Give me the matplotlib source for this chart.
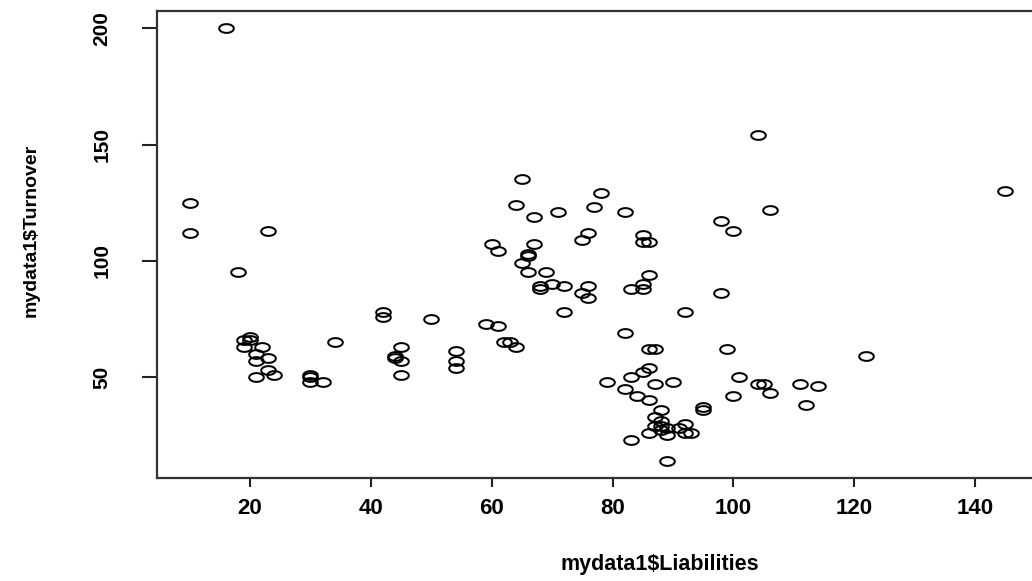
import matplotlib
matplotlib.use("Agg")
import matplotlib.pyplot as plt
from matplotlib import font_manager
from matplotlib.path import Path
import numpy as np

liabilities = [16, 10, 10, 23, 18,
               19, 20, 20, 19, 22, 21, 21, 23, 23, 24, 21,
               30, 30, 30, 32, 34, 42, 42, 50, 45, 44, 44, 45, 45,
               65, 64, 67, 71, 78, 77, 82, 98, 100, 76, 75, 85, 85, 86,
               60, 61, 67, 66, 66, 65, 66, 69, 68, 68, 70, 72, 76, 75, 76,
               86, 85, 85, 83, 98, 72, 92, 59, 61, 82,
               62, 63, 64, 54, 54, 54,
               86, 87, 99, 86, 85, 83, 79, 90, 87, 101, 100, 82, 84, 86, 95, 95, 88, 87, 88, 87, 88, 89, 92, 91, 92, 93, 86, 89, 88, 83, 89,
               104, 145, 106, 122, 104, 105, 106, 111, 114, 112]
turnover = [200, 125, 112, 113, 95,
            66, 67, 66, 63, 63, 60, 57, 58, 53, 51, 50,
            51, 50, 48, 48, 65, 78, 76, 75, 63, 59, 58, 57, 51,
            135, 124, 119, 121, 129, 123, 121, 117, 113, 112, 109, 111, 108, 108,
            107, 104, 107, 103, 102, 99, 95, 95, 89, 88, 90, 89, 89, 86, 84,
            94, 90, 88, 88, 86, 78, 78, 73, 72, 69,
            65, 65, 63, 61, 57, 54,
            62, 62, 62, 54, 52, 50, 48, 48, 47, 50, 42, 45, 42, 40, 37, 36, 36, 33, 31, 29, 29, 28, 30, 28, 26, 26, 26, 25, 27, 23, 14,
            154, 130, 122, 59, 47, 47, 43, 47, 46, 38]
x_ticks = [20, 40, 60, 80, 100, 120, 140]
y_ticks = [50, 100, 150, 200]
x_label = "mydata1$Liabilities"
y_label = "mydata1$Turnover"

plt.rcParams['font.family'] = ['Liberation Sans', 'DejaVu Sans']
names = {f.name for f in font_manager.fontManager.ttflist}
if "Liberation Sans Narrow" in names:
    vfam, vsize_lab, vsize_tick = ['Liberation Sans Narrow', 'DejaVu Sans'], 16, 17
else:
    vfam, vsize_lab, vsize_tick = ['Liberation Sans', 'DejaVu Sans'], 14, 15

W, H = 1032, 581
fig = plt.figure(figsize=(W / 100, H / 100), dpi=100)
left, right, top, bottom = 157, 1038, 11, 478
ax = fig.add_axes([left / W, (H - bottom) / H, (right - left) / W, (bottom - top) / H])

# elliptical open circle marker (image is horizontally stretched)
t = np.linspace(0, 2 * np.pi, 60)
ell = Path(np.column_stack([np.cos(t), 0.6 * np.sin(t)]), closed=True)

ax.plot(liabilities, turnover, linestyle='none', marker=ell, markersize=10.5,
        markerfacecolor='none', markeredgecolor='black', markeredgewidth=1.45)

xs, ys = np.array(liabilities), np.array(turnover)
rx, ry = xs.max() - xs.min(), ys.max() - ys.min()
ax.set_xlim(xs.min() - 0.04 * rx, xs.max() + 0.04 * rx)
ax.set_ylim(ys.min() - 0.04 * ry, ys.max() + 0.04 * ry)

ax.set_xticks(x_ticks)
ax.set_yticks(y_ticks)
ax.set_xticklabels([str(v) for v in x_ticks], fontsize=16, fontweight='bold')
ax.set_yticklabels([str(v) for v in y_ticks], fontsize=vsize_tick, fontweight='bold',
                   rotation=90, va='center', family=vfam)
ax.tick_params(axis='x', length=6.5, width=1.5, pad=8, color='#222222')
ax.tick_params(axis='y', length=10.8, width=1.5, pad=22, color='#222222')
for s in ax.spines.values():
    s.set_linewidth(1.6)
    s.set_color('#333333')

ax.set_xlabel(x_label, fontsize=15.5, fontweight='bold')
ax.set_ylabel(y_label, fontsize=vsize_lab, fontweight='bold', family=vfam)
ax.xaxis.set_label_coords(0.571, -0.162)
ax.yaxis.set_label_coords(-0.133, 0.531)

fig.savefig("out.png", dpi=100)
